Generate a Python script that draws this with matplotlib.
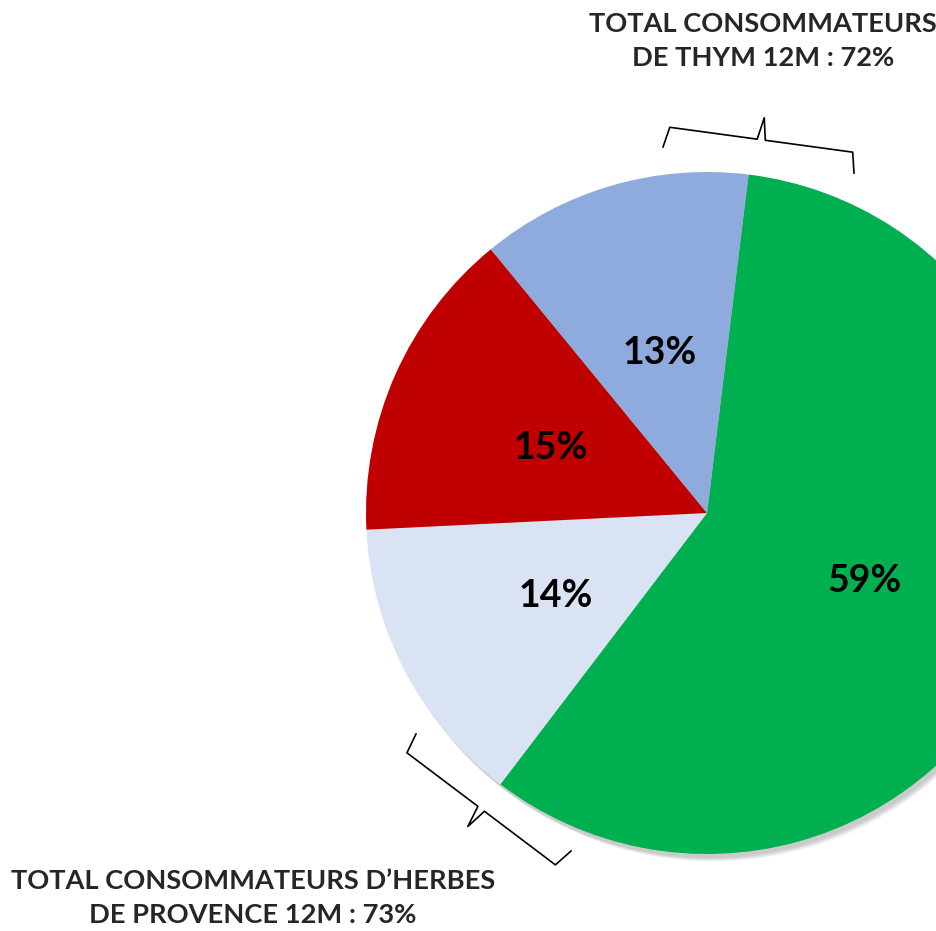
import matplotlib
matplotlib.use("Agg")
import matplotlib.pyplot as plt
import numpy as np
from matplotlib.patches import Circle
from matplotlib.lines import Line2D

# Data
segments = ["Herbes + Thym", "Herbes seulement", "Ni l'un ni l'autre", "Thym seulement"]
values = [59, 14, 15, 13]
colors = ["#00B050", "#DAE3F3", "#C00000", "#8FAADC"]
note_top = "TOTAL CONSOMMATEURS\nDE THYM 12M : 72%"
note_bottom = "TOTAL CONSOMMATEURS D\u2019HERBES\nDE PROVENCE 12M : 73%"

plt.rcParams['font.family'] = ['Lato', 'DejaVu Sans']

W, H = 937, 931
fig = plt.figure(figsize=(W / 100, H / 100), dpi=100)
ax = fig.add_axes([0, 0, 1, 1])

# pie centre in pixels (from top-left) and radius
cx, cy, r = 707, 513, 341

# soft shadow
for i in range(6):
    ax.add_patch(Circle((0.008 + i * 0.002, -0.012 - i * 0.002), 1.0,
                        color="black", alpha=0.035, lw=0, zorder=0))

wedges, texts, autotexts = ax.pie(values, colors=colors, startangle=83,
                                  counterclock=False, autopct="%d%%",
                                  pctdistance=0.5, radius=1.0,
                                  wedgeprops=dict(linewidth=0, zorder=1),
                                  textprops=dict(fontsize=27, fontweight="bold",
                                                 color="black"))
for t, v in zip(autotexts, values):
    t.set_text(f"{v}%")
    t.set_zorder(3)
    x, y = t.get_position()
    t.set_position((x, y - 0.012))

ax.set_xlim(-cx / r, (W - cx) / r)
ax.set_ylim(-(H - cy) / r, cy / r)
ax.set_aspect("auto")
ax.axis("off")


def px(x, y):
    return ((x - cx) / r, (cy - y) / r)


def brace(p0, p1, h1=0.06, h2=0.125, c=0.012):
    p0, p1 = np.array(p0), np.array(p1)
    u = (p1 - p0) / np.linalg.norm(p1 - p0)
    n = np.array([-u[1], u[0]])
    mid = (p0 + p1) / 2
    if np.dot(n, mid) < 0:
        n = -n
    pts = [p0,
           p0 + n * h1 + u * c,
           mid + n * h1 - u * c,
           mid + n * h2,
           mid + n * h1 + u * c,
           p1 + n * h1 - u * c,
           p1]
    pts = np.array(pts)
    ax.add_line(Line2D(pts[:, 0], pts[:, 1], color="black", lw=1.2,
                       clip_on=False, zorder=4))


brace(px(663, 147), px(854, 173))
brace(px(416, 734), px(571, 851))

fig.text(763 / W, 1 - 41 / H, note_top, ha="center", va="center",
         fontsize=19.6, fontweight="bold", color="#262626", linespacing=1.55)
fig.text(253 / W, 1 - 898 / H, note_bottom, ha="center", va="center",
         fontsize=19.6, fontweight="bold", color="#262626", linespacing=1.5)

fig.savefig("out.png", dpi=100)
